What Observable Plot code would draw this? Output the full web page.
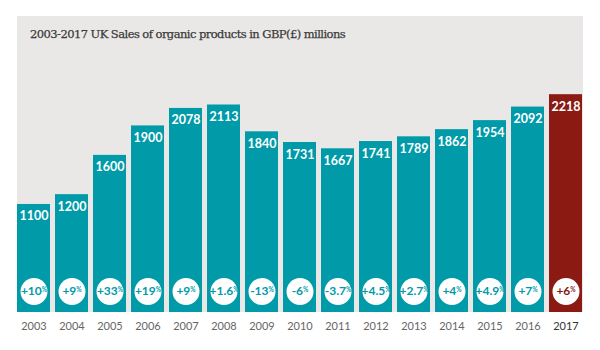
<!DOCTYPE html>
<html>
<head>
<meta charset="utf-8">
<script src="https://cdn.jsdelivr.net/npm/d3@7"></script>
<script src="https://cdn.jsdelivr.net/npm/@observablehq/plot@0.6"></script>
<style>
  html, body { margin: 0; padding: 0; background: #fff; width: 600px; height: 350px; overflow: hidden; }
  #panel { position: absolute; left: 17px; top: 16px; width: 566px; height: 296px; background: #eae8e6; }
  #title {
    position: absolute; left: 30px; top: 26px;
    font-family: "DejaVu Serif", "Liberation Serif", serif;
    font-size: 11.5px;
    line-height: 16px;
    color: #3a3a3a;
    letter-spacing: -0.55px;
    -webkit-text-stroke: 0.25px #3a3a3a;
    white-space: nowrap;
  }
  #chart { position: absolute; left: 0; top: 66px; }
  #chart svg { display: block; }
</style>
</head>
<body>
<div id="panel"></div>
<div id="title">2003-2017 UK Sales of organic products in GBP(£) millions</div>
<div id="chart"></div>
<script>
const years = ["2003","2004","2005","2006","2007","2008","2009","2010","2011","2012","2013","2014","2015","2016","2017"];
const sales = [1100,1200,1600,1900,2078,2113,1840,1731,1667,1741,1789,1862,1954,2092,2218];
const growth = ["+10","+9","+33","+19","+9","+1.6","-13","-6","-3.7","+4.5","+2.7","+4","+4.9","+7","+6"];
const highlightYear = "2017";

const teal = "#009aa8";
const red = "#8b1a13";

const data = years.map((y, i) => ({year: y, value: sales[i], pct: growth[i] + "%"}));
const col = d => d.year === highlightYear ? red : teal;

const chart = Plot.plot({
  width: 600,
  height: 284,
  marginLeft: 17,
  marginRight: 17,
  marginTop: 0,
  marginBottom: 38,
  style: {fontFamily: "Lato, sans-serif", background: "transparent"},
  x: {domain: years, paddingInner: 0.13, paddingOuter: 0, axis: null},
  y: {domain: [0, 2505], axis: null},
  marks: [
    Plot.barY(data, {x: "year", y: "value", fill: col}),
    Plot.text(data, {x: "year", y: "value", text: d => String(d.value), dy: 12, fill: "white", fontWeight: "bold", fontSize: 12.5}),
    Plot.dot(data, {x: "year", y: 0, dy: -21, r: 13.5, fill: "white", stroke: null}),
    Plot.text(data, {x: "year", y: 0, dy: -21, text: "pct", fill: col, fontWeight: "bold", fontSize: 12}),
    Plot.text(data, {x: "year", y: 0, dy: 14, text: "year", fill: d => d.year === highlightYear ? "#333" : "#666", fontWeight: d => d.year === highlightYear ? "bold" : "normal", fontSize: 11})
  ]
});
document.getElementById("chart").appendChild(chart);

// superscript the percent sign
d3.select(chart).selectAll("text").each(function() {
  const t = d3.select(this);
  const s = t.text();
  if (s.endsWith("%") && t.selectAll("tspan").empty()) {
    t.text(null);
    t.append("tspan").text(s.slice(0, -1));
    t.append("tspan").text("%").attr("font-size", 6.5).attr("dy", "-0.55em");
  }
});
</script>
</body>
</html>
